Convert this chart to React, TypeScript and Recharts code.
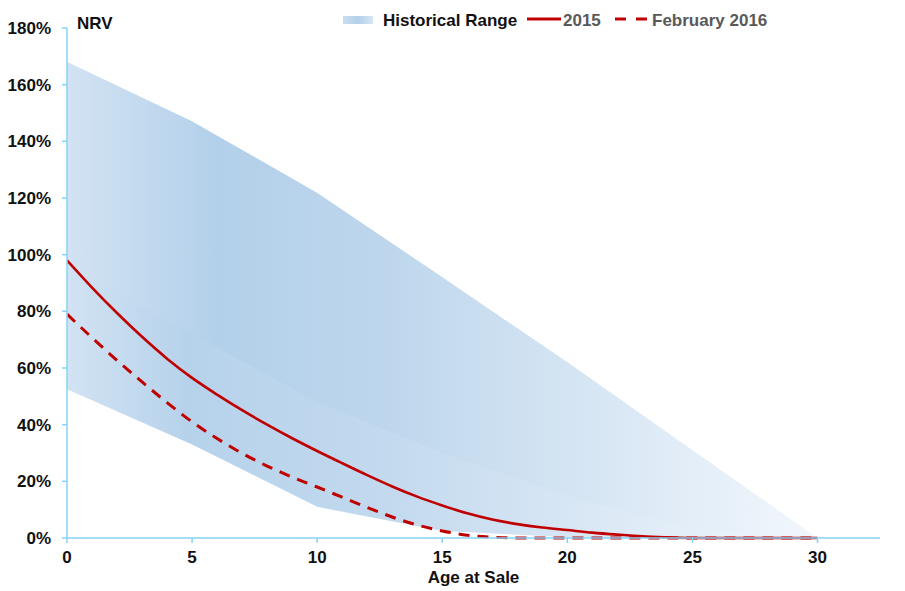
import React from 'react';
import { ComposedChart, Area, Line, XAxis, YAxis, Label } from 'recharts';

const years = [0, 1, 2, 3, 4, 5, 6, 7, 8, 9, 10, 11, 12, 13, 14, 15, 16, 17, 18, 19, 20, 21, 22, 23, 24, 25, 26, 27, 28, 29, 30];
const nrv2015 = [98, 88.4, 79.4, 71, 63.3, 56.5, 50.6, 45.1, 40, 35.2, 30.7, 26.4, 22.2, 18.2, 14.6, 11.5, 8.7, 6.5, 4.9, 3.7, 2.8, 1.9, 1.2, 0.6, 0.25, 0, 0, 0, 0, 0, 0];
const nrvFeb2016 = [79, 70.7, 62.7, 55.1, 47.8, 41, 35.1, 29.9, 25.4, 21.5, 18, 14.4, 10.8, 7.4, 4.6, 2.5, 1, 0.3, 0, 0, 0, 0, 0, 0, 0, 0, 0, 0, 0, 0, 0];

const bandYears = [0, 5, 10, 15, 20, 25, 30];
const bandLow = [52.5, 33, 11, 2.5, 0.3, 0, 0];
const bandMid = [96, 72, 48, 30, 15, 3, 0];
const bandHigh = [168, 147, 121.8, 92, 62, 31, 0];

const yTicks = [0, 20, 40, 60, 80, 100, 120, 140, 160, 180];
const xTicks = [0, 5, 10, 15, 20, 25, 30];

const lineData = years.map((y, i) => ({ x: y, a: nrv2015[i], b: nrvFeb2016[i] }));
const bandData = bandYears.map((y, i) => ({ x: y, low: bandLow[i], mid: bandMid[i], high: bandHigh[i] }));

const FONT = '"Liberation Sans", Arial, sans-serif';
const AXIS = '#86d3f3';
const RED = '#c00000';

export default function App() {
  const tickStyle = { fontFamily: FONT, fontWeight: 700, fontSize: 17, fill: '#111' };
  const legText: React.CSSProperties = {
    position: 'absolute', fontFamily: FONT, fontWeight: 700, fontSize: 17, lineHeight: '17px', whiteSpace: 'nowrap',
  };
  return (
    <div style={{ position: 'relative', width: 897, height: 583 }}>
      <ComposedChart width={897} height={583} margin={{ top: 20, right: 25, left: 9, bottom: 8 }}>
        <defs>
          <linearGradient id="gHi" x1="0" y1="0" x2="1" y2="0">
            <stop offset="0" stopColor="#d2e3f3" />
            <stop offset="0.2" stopColor="#b3d0ea" />
            <stop offset="0.42" stopColor="#bdd6ec" />
            <stop offset="0.7" stopColor="#d7e6f4" />
            <stop offset="1" stopColor="#f2f7fc" />
          </linearGradient>
          <linearGradient id="gLo" x1="0" y1="0" x2="1" y2="0">
            <stop offset="0" stopColor="#d2e3f3" />
            <stop offset="0.16" stopColor="#b6d2eb" />
            <stop offset="0.42" stopColor="#c2d9ee" />
            <stop offset="0.7" stopColor="#dae8f5" />
            <stop offset="1" stopColor="#f2f7fc" />
          </linearGradient>
        </defs>
        <XAxis
          type="number"
          dataKey="x"
          domain={[0, 32.5]}
          ticks={xTicks}
          interval={0}
          allowDataOverflow
          stroke={AXIS}
          strokeWidth={1.5}
          tickSize={5}
          tickMargin={8}
          tick={tickStyle}
          height={45}
        >
          <Label value="Age at Sale" position="insideBottom" offset={0} style={{ fontFamily: FONT, fontWeight: 700, fontSize: 17, fill: '#111' }} />
        </XAxis>
        <YAxis
          type="number"
          domain={[0, 180]}
          ticks={yTicks}
          interval={0}
          stroke={AXIS}
          strokeWidth={1.5}
          tickSize={5}
          tickMargin={11}
          tick={tickStyle}
          tickFormatter={(v: number) => `${v}%`}
          width={50}
        />
        <Area
          data={bandData}
          dataKey={(d: any) => [d.low, d.high]}
          type="linear"
          stroke="none"
          fill="url(#gLo)"
          fillOpacity={1}
          isAnimationActive={false}
          activeDot={false}
          dot={false}
        />
        <Area
          data={bandData}
          dataKey={(d: any) => [d.mid, d.high]}
          type="linear"
          stroke="none"
          fill="url(#gHi)"
          fillOpacity={1}
          isAnimationActive={false}
          activeDot={false}
          dot={false}
        />
        <Line data={lineData} dataKey="a" type="monotone" stroke={RED} strokeWidth={2.6} dot={false} activeDot={false} isAnimationActive={false} />
        <Line data={lineData} dataKey="b" type="monotone" stroke={RED} strokeWidth={3} strokeDasharray="11 8" dot={false} activeDot={false} isAnimationActive={false} />
      </ComposedChart>

      <div style={{ ...legText, left: 69, top: 7, color: '#111' }}>NRV</div>

      <svg style={{ position: 'absolute', left: 335, top: 8 }} width={30} height={8}>
        <defs>
          <linearGradient id="gLeg2" x1="0" y1="0" x2="1" y2="0">
            <stop offset="0" stopColor="#c9def1" />
            <stop offset="0.5" stopColor="#b3d0ea" />
            <stop offset="1" stopColor="#d6e6f4" />
          </linearGradient>
        </defs>
        <rect x={0} y={0} width={30} height={8} fill="url(#gLeg2)" />
      </svg>
      <div style={{ ...legText, left: 375, top: 4, color: '#111' }}>Historical Range</div>

      <svg style={{ position: 'absolute', left: 519, top: 9 }} width={34} height={4}>
        <line x1={0} y1={2} x2={34} y2={2} stroke={RED} strokeWidth={3} />
      </svg>
      <div style={{ ...legText, left: 555, top: 4, color: '#595959' }}>2015</div>

      <svg style={{ position: 'absolute', left: 607, top: 9 }} width={34} height={4}>
        <line x1={0} y1={2} x2={34} y2={2} stroke={RED} strokeWidth={3} strokeDasharray="11 10" />
      </svg>
      <div style={{ ...legText, left: 644, top: 4, color: '#595959' }}>February 2016</div>
    </div>
  );
}
